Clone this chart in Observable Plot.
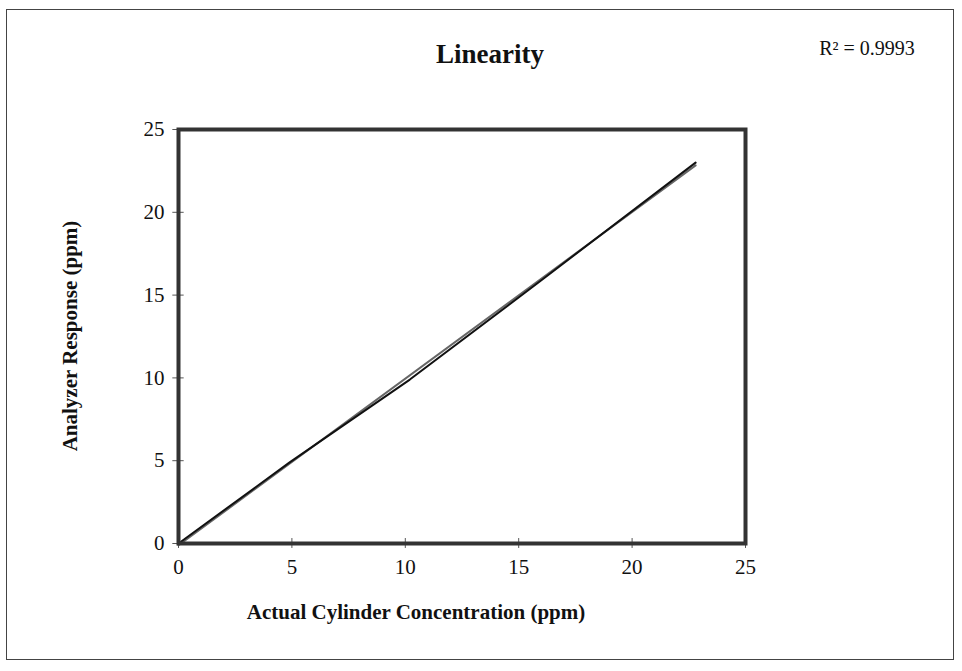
<!DOCTYPE html>
<html>
<head>
<meta charset="utf-8">
<script src="https://cdn.jsdelivr.net/npm/d3@7"></script>
<script src="https://cdn.jsdelivr.net/npm/@observablehq/plot@0.6"></script>
<style>
  body { margin: 0; background: #fff; }
  #wrap { position: relative; width: 962px; height: 671px; font-family: "Liberation Serif", "DejaVu Serif", serif; color: #111; }
  #border { position: absolute; left: 6px; top: 9px; width: 948px; height: 651px; border: 1.5px solid #444; box-sizing: border-box; pointer-events: none; }
  .t { position: absolute; white-space: nowrap; }
  #title { left: 490px; top: 54px; transform: translate(-50%, -50%); font-weight: bold; font-size: 27px; }
  #r2 { left: 867px; top: 48px; transform: translate(-50%, -50%); font-size: 20px; }
  #ylab { left: 70px; top: 336px; transform: translate(-50%, -50%) rotate(-90deg); font-weight: bold; font-size: 21px; }
  #xlab { left: 416px; top: 612px; transform: translate(-50%, -50%); font-weight: bold; font-size: 21px; }
  svg { position: absolute; left: 0; top: 0; }
</style>
</head>
<body>
<div id="wrap">
  <div id="border"></div>
  <div class="t" id="title">Linearity</div>
  <div class="t" id="r2">R² = 0.9993</div>
  <div class="t" id="ylab">Analyzer Response (ppm)</div>
  <div class="t" id="xlab">Actual Cylinder Concentration (ppm)</div>
</div>
<script>
// Data
const actual   = [0, 4.9, 10.2, 16.0, 22.8];   // Actual Cylinder Concentration (ppm)
const response = [0, 4.9, 9.9, 15.9, 23.0];    // Analyzer Response (ppm)
const xTicks = [0, 5, 10, 15, 20, 25];
const yTicks = [0, 5, 10, 15, 20, 25];

const data = actual.map((x, i) => ({x, y: response[i]}));

const chart = Plot.plot({
  width: 962,
  height: 671,
  marginLeft: 178,
  marginRight: 217,
  marginTop: 129,
  marginBottom: 128,
  style: { fontFamily: "Liberation Serif, serif", fontSize: "21px", color: "#111", background: "transparent" },
  x: { domain: [0, 25], ticks: xTicks, label: null, tickSize: 0, tickPadding: 16 },
  y: { domain: [0, 25], ticks: yTicks, label: null, tickSize: 0, tickPadding: 14 },
  marks: [
    Plot.linearRegressionY(data, { x: "x", y: "y", ci: 0, stroke: "#666", strokeWidth: 2 }),
    Plot.line(data, { x: "x", y: "y", stroke: "#111", strokeWidth: 2 }),
    Plot.ruleX(xTicks, { x: d => d, y1: -0.3, y2: 0.3, stroke: "#555", strokeWidth: 1 }),
    Plot.ruleY(yTicks, { y: d => d, x1: -0.25, x2: 0.25, stroke: "#555", strokeWidth: 1 }),
    Plot.frame({ stroke: "#333", strokeWidth: 4 })
  ]
});
document.getElementById("wrap").appendChild(chart);
</script>
</body>
</html>
